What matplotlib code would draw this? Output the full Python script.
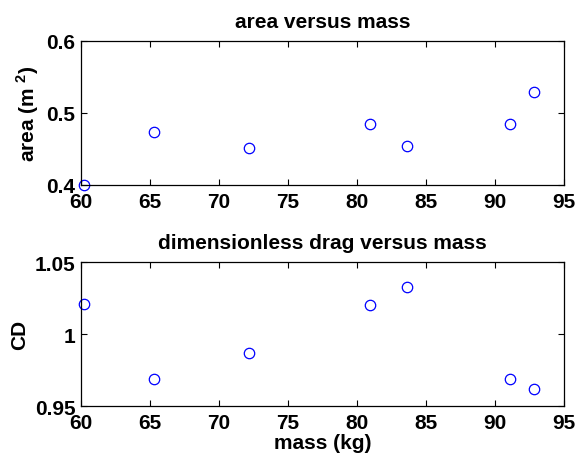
import matplotlib.pyplot as plt

plt.rcParams['font.family'] = ['Liberation Sans', 'DejaVu Sans']
plt.rcParams['font.weight'] = 'bold'
plt.rcParams['mathtext.fontset'] = 'custom'
plt.rcParams['mathtext.rm'] = 'Liberation Sans:bold'
plt.rcParams['mathtext.bf'] = 'Liberation Sans:bold'

# measurements per subject
mass = [60.24, 65.3, 72.17, 80.94, 83.6, 91.09, 92.85]
area = [0.400, 0.474, 0.451, 0.485, 0.454, 0.485, 0.529]
cd = [1.021, 0.969, 0.987, 1.020, 1.033, 0.969, 0.962]

x_ticks = [60, 65, 70, 75, 80, 85, 90, 95]
area_ticks = [0.4, 0.5, 0.6]
area_labels = ['0.4', '0.5', '0.6']
cd_ticks = [0.95, 1.0, 1.05]
cd_labels = ['0.95', '1', '1.05']

fig = plt.figure(figsize=(5.77, 4.6), dpi=100)
ax1 = fig.add_axes([0.1404, 0.5957, 0.8371, 0.313])
ax2 = fig.add_axes([0.1404, 0.1152, 0.8371, 0.313])


def style(ax):
    ax.set_xlim(60, 95)
    ax.set_xticks(x_ticks)
    ax.tick_params(direction='in', top=True, right=True, length=4.3,
                   width=0.8, labelsize=15)
    ax.tick_params(axis='x', pad=5)
    ax.tick_params(axis='y', pad=4)
    for s in ax.spines.values():
        s.set_linewidth(0.9)
    for lab in ax.get_xticklabels() + ax.get_yticklabels():
        lab.set_fontweight('bold')


ax1.plot(mass, area, 'o', mfc='none', mec='blue', ms=7.5, mew=0.9,
         clip_on=False)
ax1.set_ylim(0.4, 0.6)
ax1.set_yticks(area_ticks, area_labels)
style(ax1)
ax1.set_title('area versus mass', fontsize=15, fontweight='bold', pad=10)
ax1.set_ylabel('area (m$^{\\ 2}$)', fontsize=15, fontweight='bold',
               labelpad=4)

ax2.plot(mass, cd, 'o', mfc='none', mec='blue', ms=7.5, mew=0.9,
         clip_on=False)
ax2.set_ylim(0.95, 1.05)
ax2.set_yticks(cd_ticks, cd_labels)
style(ax2)
ax2.set_title('dimensionless drag versus mass', fontsize=15,
              fontweight='bold', pad=10)
ax2.set_ylabel('CD', fontsize=15, fontweight='bold', labelpad=4)
ax2.set_xlabel('mass (kg)', fontsize=15, fontweight='bold', labelpad=1)

fig.savefig('out.png', dpi=100)
